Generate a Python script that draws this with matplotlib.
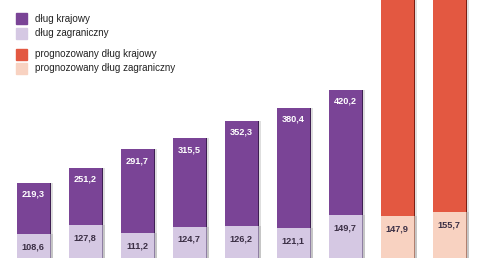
import matplotlib
matplotlib.use("Agg")
import matplotlib.pyplot as plt
from matplotlib.patches import Rectangle
import numpy as np

# data (values in bn PLN)
domestic = [219.3, 251.2, 291.7, 315.5, 352.3, 380.4, 420.2]
foreign = [108.6, 127.8, 111.2, 124.7, 126.2, 121.1, 149.7]
forecast_domestic = [640.0, 700.0]   # tops cut off in the reference
forecast_foreign = [147.9, 155.7]

legend_labels = ["dług krajowy", "dług zagraniczny",
                 "prognozowany dług krajowy", "prognozowany dług zagraniczny"]

C_DOM = "#7a4496"
C_FOR = "#d5c8e3"
C_PDOM = "#e35841"
C_PFOR = "#f8d2c1"

W, H = 490, 258
fig = plt.figure(figsize=(W / 100, H / 100), dpi=100)
ax = fig.add_axes([0, 0, 1, 1])
ax.set_xlim(-0.635, 8.788)
ax.set_ylim(57.2, 614.5)
ax.axis("off")

n = len(domestic)
x_hist = np.arange(n)
x_fc = np.arange(n, n + len(forecast_domestic))
width = 0.635

def fmt(v):
    return f"{v:.1f}".replace(".", ",")

def draw(xs, dom, forv, cdom, cfor, edge_dom, edge_for, label_dom=True):
    # soft shadow
    ax.bar(xs + 0.075, dom, width, color="#d6d6d6", zorder=1, alpha=0.8)
    ax.bar(xs + 0.035, dom, width, color=edge_dom, zorder=2)
    ax.bar(xs, dom, width, color=cdom, zorder=3)
    ax.bar(xs + 0.075, forv, width, color="#bdbdbd", zorder=4, alpha=0.7)
    ax.bar(xs + 0.035, forv, width, color=edge_for, zorder=5)
    ax.bar(xs, forv, width, color=cfor, zorder=6)
    if label_dom:
        for x, v in zip(xs, dom):
            ax.annotate(fmt(v), (x, v), xytext=(0, -8), textcoords="offset points",
                        ha="center", va="center", color="white", fontsize=6.6,
                        fontweight="bold", family="Liberation Sans", zorder=10)
    for x, v in zip(xs, forv):
        ax.annotate(fmt(v), (x, v), xytext=(0, -9), textcoords="offset points",
                    ha="center", va="center", color="#3b2f45", fontsize=6.6,
                    fontweight="bold", family="Liberation Sans", zorder=10)

draw(x_hist, domestic, foreign, C_DOM, C_FOR, "#3e1f52", "#8f7fa3")
draw(x_fc, forecast_domestic, forecast_foreign, C_PDOM, C_PFOR, "#7a1e12", "#b08070",
     label_dom=False)

# legend
leg_colors = [C_DOM, C_FOR, C_PDOM, C_PFOR]
leg_y = [18.5, 33, 54.5, 68]
for c, y, t in zip(leg_colors, leg_y, legend_labels):
    fig.patches.append(Rectangle((16 / W, 1 - (y + 5.5) / H), 11 / W, 11 / H,
                                 transform=fig.transFigure, color=c, zorder=20))
    fig.text(35 / W, 1 - y / H, t, ha="left", va="center", fontsize=7.1,
             family="Liberation Sans", color="#222222")

fig.savefig("out.png", dpi=100, facecolor="white")
